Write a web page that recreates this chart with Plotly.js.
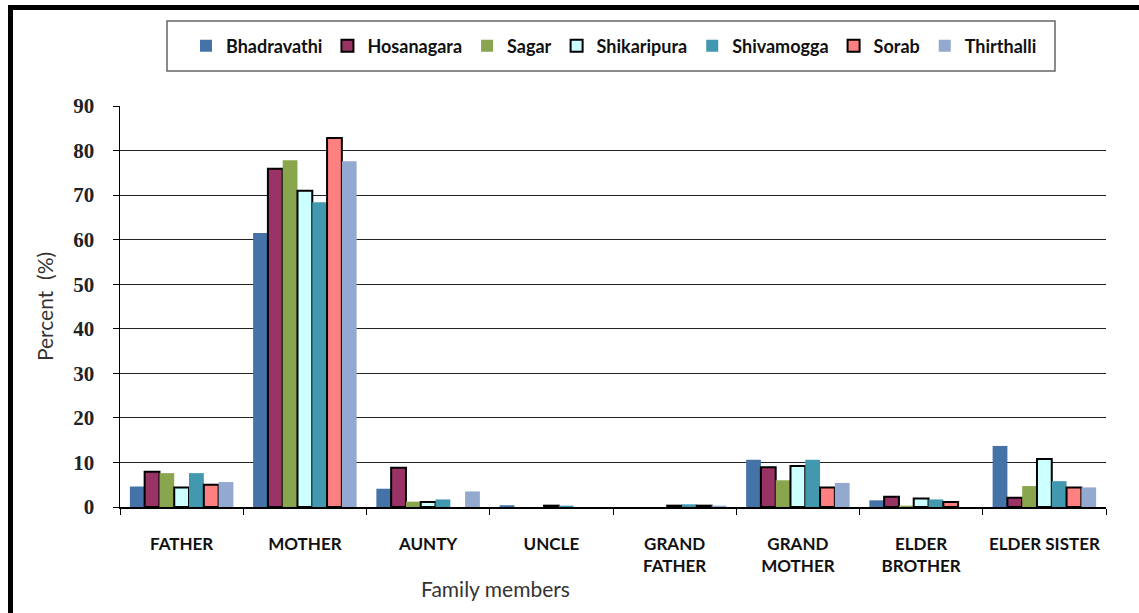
<!DOCTYPE html>
<html>
<head>
<meta charset="utf-8">
<script src="https://cdn.plot.ly/plotly-3.0.1.min.js"></script>
<style>
html,body{margin:0;padding:0;background:#fff;}
#chart{width:1139px;height:613px;}
</style>
</head>
<body>
<div id="chart"></div>
<script>
var categories = ["FATHER","MOTHER","AUNTY","UNCLE","GRAND<br>FATHER","GRAND<br>MOTHER","ELDER<br>BROTHER","ELDER SISTER"];
var seriesNames = ["Bhadravathi","Hosanagara","Sagar","Shikaripura","Shivamogga","Sorab","Thirthalli"];
var Bhadravathi = [4.6, 61.5, 4.1, 0.4, 0, 10.6, 1.5, 13.7];
var Hosanagara  = [7.9, 75.9, 8.8, 0, 0, 8.9, 2.3, 2.1];
var Sagar       = [7.6, 77.8, 1.2, 0, 0, 6.0, 0.3, 4.7];
var Shikaripura = [4.4, 71.0, 1.1, 0.3, 0.3, 9.2, 1.9, 10.8];
var Shivamogga  = [7.6, 68.4, 1.7, 0.3, 0.6, 10.6, 1.7, 5.8];
var Sorab       = [5.0, 82.8, 0, 0, 0.3, 4.4, 1.1, 4.4];
var Thirthalli  = [5.6, 77.6, 3.5, 0, 0.3, 5.4, 0, 4.4];
var seriesValues = [Bhadravathi, Hosanagara, Sagar, Shikaripura, Shivamogga, Sorab, Thirthalli];

var colors = ["#4572A7","#993366","#89A54E","#CCFFFF","#4198AF","#FF8080","#93A9CF"];
var outlined = [false,true,false,true,false,true,false];

var traces = seriesNames.map(function(n,i){
  var vals = seriesValues[i];
  return {
    type:"bar", name:n, x:categories, y:vals,
    marker:{color:colors[i], line:{color:"#000",
      width: outlined[i] ? vals.map(function(v){ return v > 0 ? 2 : 0; }) : 0}}
  };
});

// pixel -> paper helpers (plot area: x 120..1106, y 106..507)
function px(x){ return (x-120)/986; }
function py(y){ return (507-y)/401; }

var layout = {
  width:1139, height:613,
  margin:{l:120, r:33, t:106, b:106},
  paper_bgcolor:"#fff", plot_bgcolor:"#fff",
  barmode:"group", bargap:0.16, bargroupgap:0,
  showlegend:true,
  font:{family:"Lato, 'Open Sans', sans-serif", color:"#000"},
  xaxis:{
    type:"category", tickson:"boundaries", ticks:"outside", ticklen:6, tickcolor:"#000",
    showline:true, linecolor:"#000", linewidth:1.5, showgrid:false,
    ticklabelstandoff:21,
    tickfont:{family:"Lato, sans-serif", size:17, weight:"bold", color:"#111"},
    fixedrange:true
  },
  yaxis:{
    range:[0,90], dtick:10, tick0:0, ticks:"outside", ticklen:6, tickcolor:"#000",
    showline:true, linecolor:"#000", linewidth:1.5,
    showgrid:true, gridcolor:"#222", gridwidth:1, zeroline:false,
    ticklabelstandoff:14,
    tickfont:{family:"'Liberation Serif', 'DejaVu Serif', serif", size:21, weight:"bold", color:"#222"},
    title:{text:"Percent  (%)", standoff:14, font:{family:"Lato, sans-serif", size:21, color:"#333"}},
    fixedrange:true
  },
  legend:{
    orientation:"h", x:px(614), xanchor:"center", y:py(46), yanchor:"middle",
    bgcolor:"rgba(0,0,0,0)", borderwidth:0,
    font:{family:"Lato, sans-serif", size:18, weight:"bold", color:"#111"},
    traceorder:"normal", itemwidth:30
  },
  annotations:[{
    text:"Family members", xref:"paper", yref:"paper", x:px(495), y:py(588),
    xanchor:"center", yanchor:"middle", showarrow:false,
    font:{family:"Lato, sans-serif", size:21, color:"#333"}
  }],
  shapes:[
    {type:"rect", xref:"paper", yref:"paper", x0:px(167), x1:px(1055), y0:py(71), y1:py(21),
     line:{color:"#666", width:1.5}, fillcolor:"rgba(0,0,0,0)", layer:"below"},
    {type:"line", xref:"paper", yref:"paper", x0:px(10.5), x1:px(10.5), y0:py(5), y1:py(620),
     line:{color:"#000", width:5}},
    {type:"line", xref:"paper", yref:"paper", x0:px(8), x1:px(1145), y0:py(7.5), y1:py(7.5),
     line:{color:"#000", width:5}}
  ]
};

Plotly.newPlot("chart", traces, layout, {displayModeBar:false, staticPlot:true});
</script>
</body>
</html>
